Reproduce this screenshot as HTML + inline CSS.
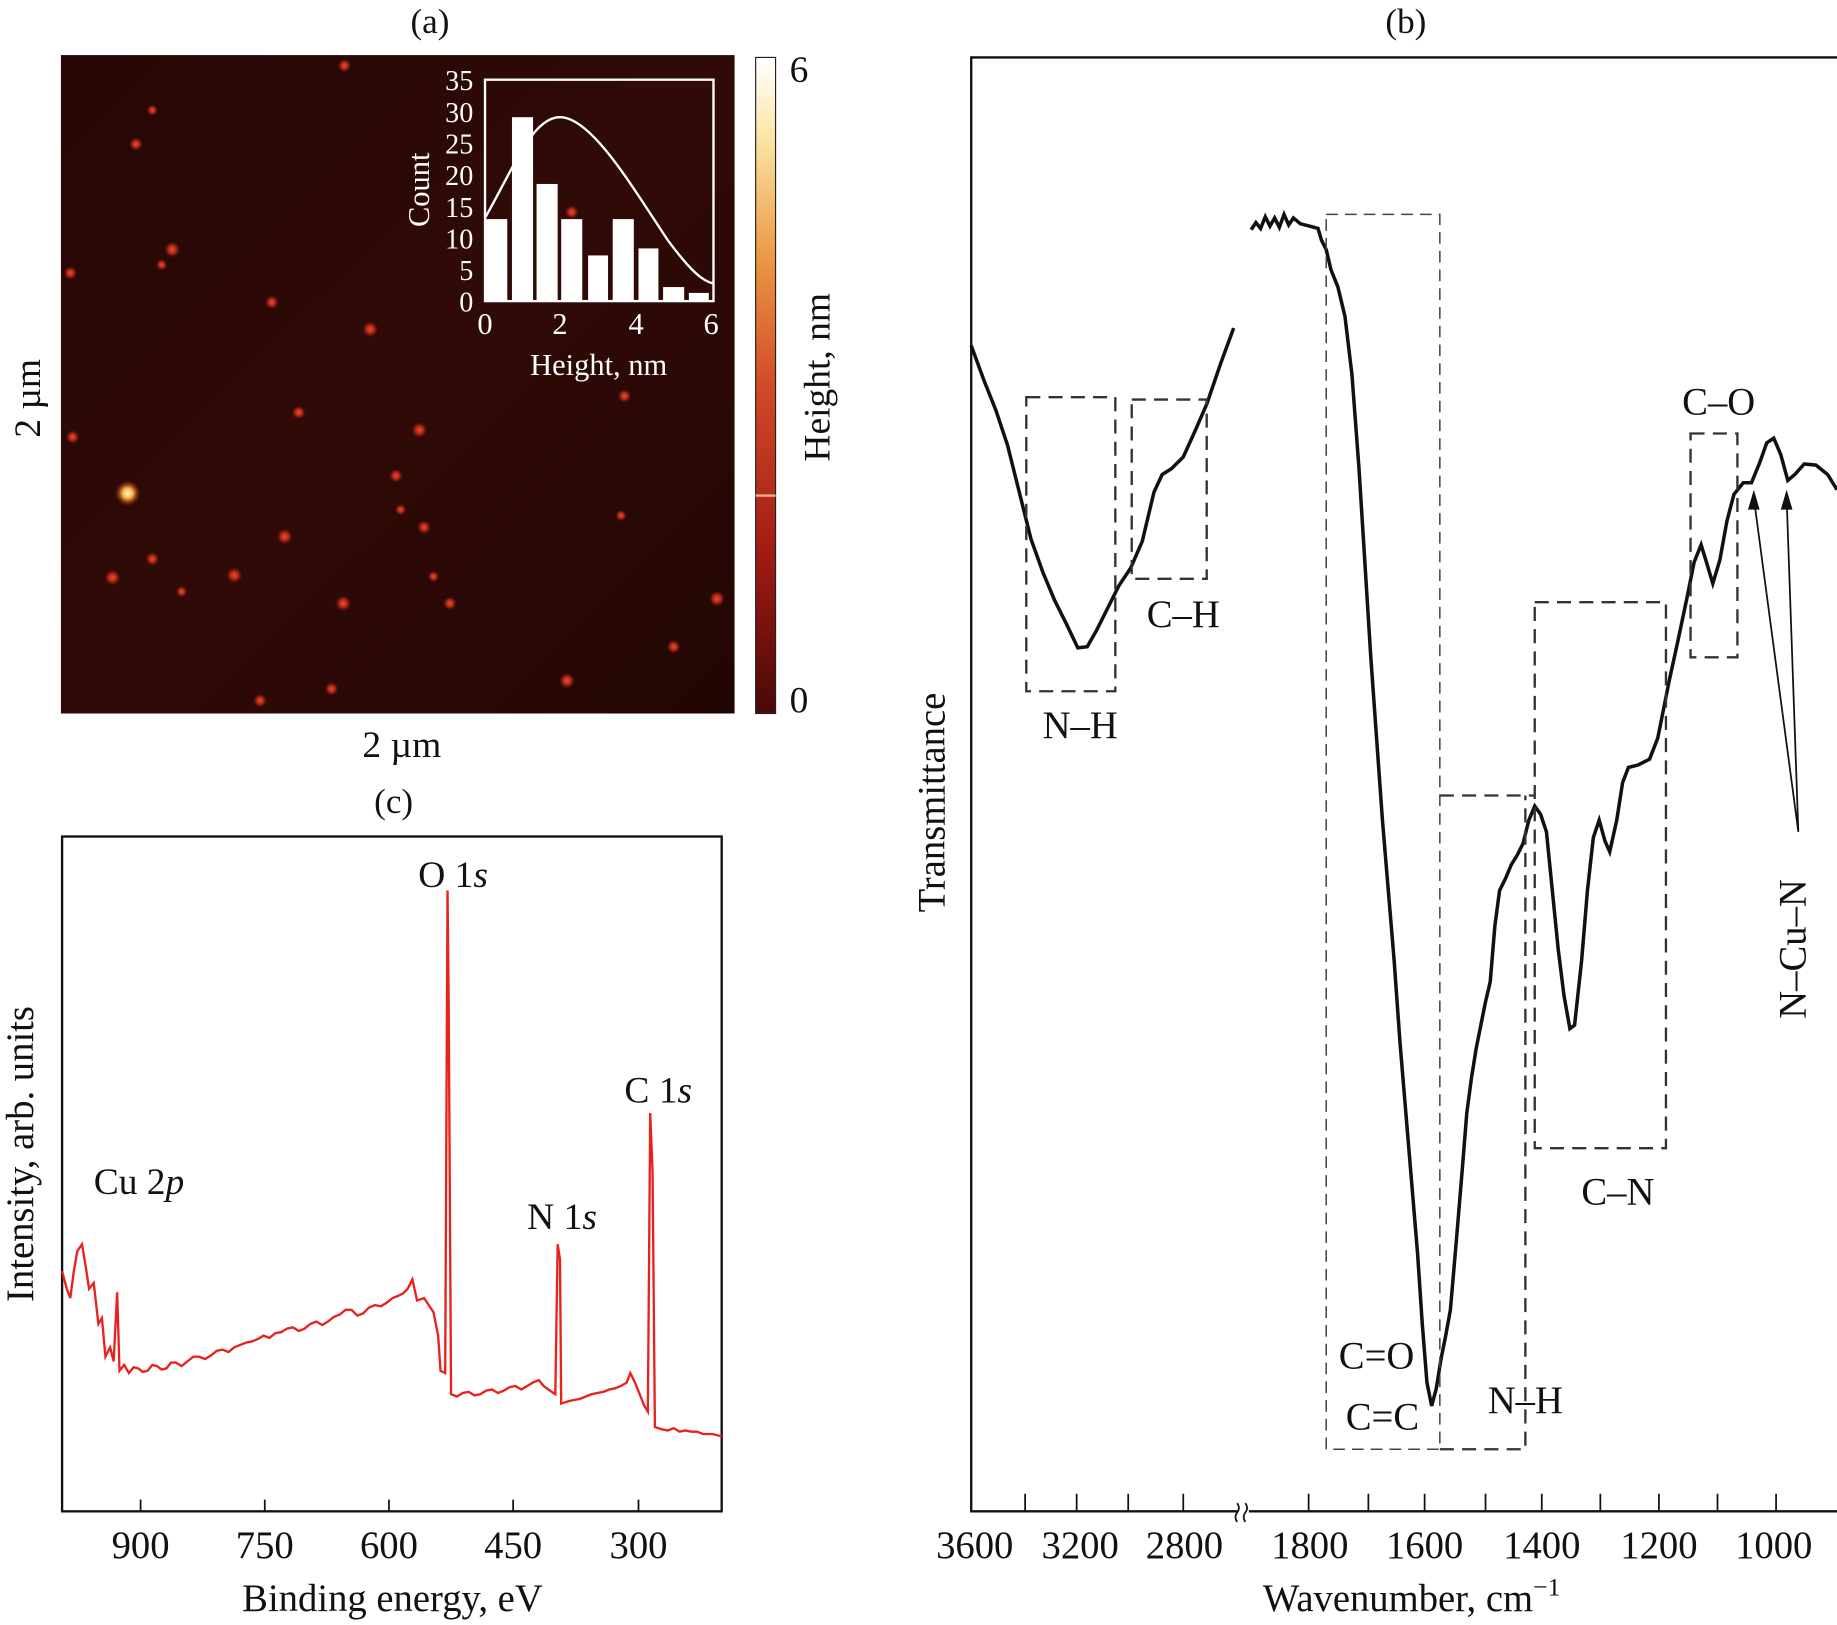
<!DOCTYPE html>
<html><head><meta charset="utf-8"><style>html,body{margin:0;padding:0;background:#fff}svg{display:block}text{font-family:"Liberation Serif",serif}</style></head><body>
<svg width="1837" height="1625" viewBox="0 0 1568 1387" xmlns="http://www.w3.org/2000/svg">
<defs>
<linearGradient id="bg" x1="0" y1="0" x2="1" y2="1"><stop offset="0" stop-color="#250705"/><stop offset="0.5" stop-color="#300a07"/><stop offset="1" stop-color="#220604"/></linearGradient>
<linearGradient id="cb" x1="0" y1="0" x2="0" y2="1"><stop offset="0" stop-color="#ffffff"/><stop offset="0.12" stop-color="#fbe6a8"/><stop offset="0.3" stop-color="#ec9a45"/><stop offset="0.5" stop-color="#d24a28"/><stop offset="0.75" stop-color="#a21c14"/><stop offset="1" stop-color="#4a0806"/></linearGradient>
<radialGradient id="dot"><stop offset="0" stop-color="#ff4a28"/><stop offset="0.5" stop-color="#c8301a" stop-opacity="0.8"/><stop offset="1" stop-color="#6a1008" stop-opacity="0"/></radialGradient>
<radialGradient id="big"><stop offset="0" stop-color="#ffffe0"/><stop offset="0.4" stop-color="#ffb040"/><stop offset="1" stop-color="#a02010" stop-opacity="0"/></radialGradient>
</defs>
<g style="fill:#111">
<!-- (a) -->
<text x="367" y="28" font-size="30" text-anchor="middle">(a)</text>
<rect x="52" y="47" width="575" height="562" fill="url(#bg)"/>
<g fill="url(#dot)">
<circle cx="147" cy="213" r="7"/><circle cx="232" cy="258" r="6"/><circle cx="316" cy="281" r="7"/><circle cx="255" cy="352" r="6"/><circle cx="358" cy="367" r="7"/><circle cx="338" cy="406" r="6"/><circle cx="62" cy="373" r="6"/><circle cx="138" cy="226" r="5"/><circle cx="533" cy="338" r="6"/><circle cx="530" cy="440" r="5"/><circle cx="243" cy="458" r="7"/><circle cx="130" cy="477" r="6"/><circle cx="96" cy="493" r="7"/><circle cx="200" cy="491" r="7"/><circle cx="293" cy="515" r="7"/><circle cx="370" cy="492" r="5"/><circle cx="575" cy="552" r="6"/><circle cx="612" cy="511" r="7"/><circle cx="484" cy="581" r="7"/><circle cx="222" cy="598" r="6"/><circle cx="283" cy="588" r="6"/><circle cx="116" cy="123" r="6"/><circle cx="130" cy="94" r="5"/><circle cx="294" cy="56" r="6"/><circle cx="488" cy="181" r="6"/><circle cx="60" cy="233" r="6"/><circle cx="362" cy="450" r="6"/><circle cx="342" cy="435" r="5"/><circle cx="155" cy="505" r="5"/><circle cx="384" cy="515" r="6"/>
</g>
<circle cx="109" cy="421" r="11" fill="url(#big)"/>
<rect x="414" y="68" width="195" height="189" fill="none" stroke="#fff" stroke-width="2"/>
<g fill="#fff">
<rect x="414" y="187" width="19" height="70"/><rect x="437" y="100" width="18" height="157"/><rect x="458" y="157" width="18" height="100"/><rect x="479" y="187" width="18" height="70"/><rect x="502" y="218" width="17" height="39"/><rect x="523" y="187" width="18" height="70"/><rect x="545" y="212" width="17" height="45"/><rect x="566" y="245" width="18" height="12"/><rect x="588" y="250" width="17" height="7"/>
</g>
<path d="M414,186 C440,140 455,100 478,100 C505,100 540,160 570,205 C590,232 600,240 609,242" fill="none" stroke="#fff" stroke-width="2"/>
<g style="fill:#fff" font-size="24" text-anchor="end">
<text x="404" y="77">35</text><text x="404" y="104">30</text><text x="404" y="131">25</text><text x="404" y="158">20</text><text x="404" y="185">15</text><text x="404" y="212">10</text><text x="404" y="239">5</text><text x="404" y="266">0</text>
</g>
<g style="fill:#fff" font-size="26" text-anchor="middle">
<text x="414" y="285">0</text><text x="478" y="285">2</text><text x="543" y="285">4</text><text x="607" y="285">6</text>
<text x="511" y="320">Height, nm</text>
<text transform="translate(366,162) rotate(-90)">Count</text>
</g>
<rect x="645" y="49" width="17" height="560" fill="url(#cb)" stroke="#222" stroke-width="1"/>
<line x1="645" y1="423" x2="662" y2="423" stroke="#f0b090" stroke-width="2"/>
<text x="674" y="70" font-size="32">6</text>
<text x="674" y="608" font-size="32">0</text>
<text transform="translate(708,322) rotate(-90)" font-size="32" text-anchor="middle">Height, nm</text>
<text transform="translate(34,340) rotate(-90)" font-size="32" text-anchor="middle">2 µm</text>
<text x="343" y="646" font-size="32" text-anchor="middle">2 µm</text>
<!-- (c) -->
<text x="336" y="694" font-size="30" text-anchor="middle">(c)</text>
<rect x="53" y="714" width="563" height="576" fill="none" stroke="#111" stroke-width="2"/>
<g stroke="#111" stroke-width="1.5">
<line x1="120" y1="1290" x2="120" y2="1280"/><line x1="226" y1="1290" x2="226" y2="1280"/><line x1="332" y1="1290" x2="332" y2="1280"/><line x1="438" y1="1290" x2="438" y2="1280"/><line x1="545" y1="1290" x2="545" y2="1280"/>
</g>
<g font-size="33" text-anchor="middle">
<text x="120" y="1330">900</text><text x="226" y="1330">750</text><text x="332" y="1330">600</text><text x="438" y="1330">450</text><text x="545" y="1330">300</text>
<text x="335" y="1375">Binding energy, eV</text>
<text transform="translate(28,985) rotate(-90)">Intensity, arb. units</text>
</g>
<path d="M53,1085 L57,1100 L60,1108 L63,1085 L66,1068 L70,1062 L73,1080 L76,1100 L80,1095 L84,1130 L87,1125 L90,1158 L94,1150 L97,1162 L100,1103 L102,1170 L106,1165 L110,1172 L114,1167 L118,1168 L122,1171 L126,1170 L130,1165 L134,1166 L138,1169 L142,1168 L146,1163 L150,1163 L155,1166 L160,1162 L165,1158 L170,1158 L175,1160 L180,1157 L185,1153 L190,1152 L195,1154 L200,1150 L205,1148 L210,1146 L215,1145 L220,1143 L225,1140 L230,1142 L235,1138 L240,1137 L245,1134 L250,1133 L255,1136 L260,1134 L265,1130 L270,1128 L275,1131 L280,1128 L285,1124 L290,1122 L295,1118 L300,1118 L305,1123 L310,1121 L315,1116 L320,1114 L325,1115 L330,1112 L335,1108 L340,1106 L344,1104 L348,1100 L352,1092 L356,1110 L362,1108 L370,1120 L374,1140 L376,1170 L380,1172 L382,760 L383,860 L385,1190 L390,1192 L395,1189 L400,1188 L405,1191 L410,1190 L415,1187 L420,1186 L425,1189 L430,1187 L435,1184 L440,1183 L445,1186 L450,1183 L455,1180 L460,1178 L464,1183 L468,1186 L474,1190 L476,1062 L478,1075 L479,1198 L485,1196 L490,1195 L495,1194 L500,1192 L505,1190 L510,1189 L515,1188 L520,1186 L525,1185 L530,1183 L535,1180 L538,1172 L542,1180 L546,1190 L550,1200 L553,1205 L555,950 L557,1000 L559,1218 L565,1220 L570,1221 L575,1219 L580,1222 L585,1221 L590,1222 L595,1222 L600,1224 L608,1224 L616,1226" fill="none" stroke="#e8231e" stroke-width="2"/>
<g font-size="32">
<text x="80" y="1019">Cu 2<tspan font-style="italic">p</tspan></text>
<text x="357" y="757">O 1<tspan font-style="italic">s</tspan></text>
<text x="450" y="1049">N 1<tspan font-style="italic">s</tspan></text>
<text x="533" y="941">C 1<tspan font-style="italic">s</tspan></text>
</g>
<!-- (b) -->
<text x="1200" y="28" font-size="30" text-anchor="middle">(b)</text>
<path d="M1568,49 L829,49 L829,1290 L1056,1290 M1066,1290 L1568,1290" fill="none" stroke="#111" stroke-width="2"/>
<path d="M1056,1283 q3,4 0,8 q-3,4 0,8 M1063,1283 q3,4 0,8 q-3,4 0,8" fill="none" stroke="#111" stroke-width="1.5"/>
<g stroke="#111" stroke-width="1.5">
<line x1="875" y1="1290" x2="875" y2="1275"/><line x1="919" y1="1290" x2="919" y2="1275"/><line x1="963" y1="1290" x2="963" y2="1275"/><line x1="1010" y1="1290" x2="1010" y2="1275"/>
<line x1="1117" y1="1290" x2="1117" y2="1275"/><line x1="1168" y1="1290" x2="1168" y2="1275"/><line x1="1216" y1="1290" x2="1216" y2="1275"/><line x1="1268" y1="1290" x2="1268" y2="1275"/><line x1="1316" y1="1290" x2="1316" y2="1275"/><line x1="1366" y1="1290" x2="1366" y2="1275"/><line x1="1416" y1="1290" x2="1416" y2="1275"/><line x1="1466" y1="1290" x2="1466" y2="1275"/><line x1="1516" y1="1290" x2="1516" y2="1275"/>
</g>
<g font-size="33" text-anchor="middle">
<text x="832" y="1330">3600</text><text x="922" y="1330">3200</text><text x="1011" y="1330">2800</text><text x="1118" y="1330">1800</text><text x="1216" y="1330">1600</text><text x="1316" y="1330">1400</text><text x="1416" y="1330">1200</text><text x="1514" y="1330">1000</text>
<text x="1205" y="1375">Wavenumber, cm<tspan font-size="22" dy="-13">−1</tspan></text>
<text transform="translate(806,685) rotate(-90)">Transmittance</text>
</g>
<path d="M829,295 L840,325 L850,350 L860,380 L870,420 L880,460 L890,488 L900,512 L910,532 L920,553 L928,552 L936,538 L945,520 L955,500 L965,485 L975,462 L985,420 L992,405 L1000,400 L1010,390 L1020,368 L1030,345 L1042,310 L1053,280" fill="none" stroke="#111" stroke-width="3"/>
<path d="M1068,196 L1072,190 L1076,195 L1080,185 L1084,193 L1088,186 L1092,194 L1096,183 L1100,192 L1104,186 L1110,191 L1118,193 L1125,195 L1128,205 L1132,213 L1136,230 L1142,245 L1148,270 L1154,320 L1160,400 L1165,480 L1170,560 L1175,630 L1180,700 L1185,760 L1190,820 L1195,890 L1200,950 L1205,1010 L1210,1070 L1214,1130 L1218,1180 L1222,1200 L1226,1185 L1230,1160 L1234,1140 L1238,1118 L1243,1060 L1248,1000 L1252,950 L1256,920 L1260,895 L1265,870 L1268,855 L1272,838 L1276,790 L1280,760 L1285,750 L1290,738 L1295,730 L1300,720 L1305,700 L1310,688 L1315,695 L1320,710 L1325,760 L1330,810 L1335,850 L1340,878 L1344,875 L1350,820 L1355,760 L1360,715 L1365,700 L1370,718 L1374,727 L1380,700 L1385,668 L1390,655 L1398,653 L1408,648 L1415,630 L1420,605 L1425,580 L1432,548 L1440,510 L1446,480 L1452,465 L1456,478 L1462,498 L1468,478 L1474,445 L1480,422 L1488,412 L1495,412 L1502,395 L1508,378 L1514,374 L1520,388 L1526,410 L1532,405 L1540,396 L1550,397 L1560,405 L1568,418" fill="none" stroke="#111" stroke-width="3"/>
<g fill="none" stroke="#333" stroke-dasharray="12,7" stroke-width="2">
<rect x="876" y="339" width="76" height="251"/>
<rect x="966" y="341" width="64" height="153"/>
<rect x="1310" y="514" width="112" height="466"/>
<rect x="1443" y="370" width="40" height="191"/>
<path d="M1229,679 L1310,679 M1229,1237 L1302,1237 L1302,679"/>
</g>
<g fill="none" stroke="#444" stroke-dasharray="10,6" stroke-width="1.3">
<rect x="1132" y="183" width="97" height="1054"/>
</g>
<path d="M1535,710 L1497,425 M1535,710 L1525,425" stroke="#111" stroke-width="1.5" fill="none"/>
<path d="M1497,418 L1492,435 L1502,435 Z M1525,418 L1520,435 L1530,435 Z" fill="#111"/>
<g font-size="33" text-anchor="middle">
<text x="922" y="630">N–H</text><text x="1010" y="535">C–H</text><text x="1467" y="354">C–O</text><text x="1381" y="1028">C–N</text>
<text x="1175" y="1168">C=O</text><text x="1180" y="1220">C=C</text><text x="1302" y="1206">N–H</text>
<text transform="translate(1541,810) rotate(-90)">N–Cu–N</text>
</g>
</g>
</svg>
</body></html>
